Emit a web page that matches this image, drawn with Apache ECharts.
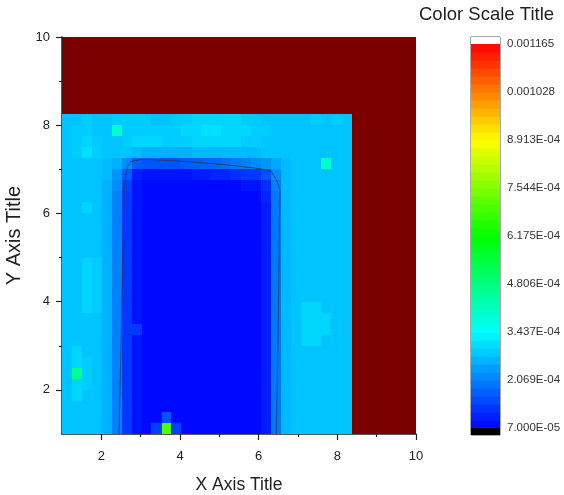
<!DOCTYPE html>
<html><head><meta charset="utf-8">
<script src="https://cdn.jsdelivr.net/npm/echarts@6/dist/echarts.min.js"></script>
<style>html,body{margin:0;padding:0;background:#fff}#c{width:564px;height:495px}</style>
</head><body><div id="c"></div>
<script>
// ---------- data ----------
const xCenters = [1.13,1.38,1.63,1.89,2.14,2.39,2.65,2.90,3.15,3.40,3.66,3.91,4.16,4.42,4.67,4.92,5.18,5.43,5.68,5.94,6.19,6.44,6.70,6.95,7.20,7.45,7.71,7.96,8.21];
// rows listed from top (y = 8.125) to bottom (y = 1.125)
const yCenters = [8.125,7.875,7.625,7.375,7.125,6.875,6.625,6.375,6.125,5.875,5.625,5.375,5.125,4.875,4.625,4.375,4.125,3.875,3.625,3.375,3.125,2.875,2.625,2.375,2.125,1.875,1.625,1.375,1.125];
// Z values in units of 1e-5
const Z_UNIT = 1e-5;
const zRows = [
 [28,28,29,28,28,29,29,29,29,28,28,29,29,30,30,30,30,30,29,29,28,28,28,28,28,29,28,29,28],
 [28,29,29,28,28,40,29,29,29,29,29,29,30,30,31,31,30,30,30,29,29,28,28,28,28,28,28,28,28],
 [28,29,30,29,28,28,29,30,30,30,29,29,29,30,30,30,30,30,29,29,28,28,28,28,28,28,28,28,28],
 [28,29,31,29,28,28,28,27,26,26,26,26,26,27,27,27,27,27,27,27,28,28,28,28,28,28,28,28,28],
 [28,28,28,28,27,26,22,17,16,16,16,16,17,17,18,18,19,20,21,22,23,25,27,28,28,28,40,28,28],
 [28,28,28,28,27,23,17,10,9,9,9,9,9,10,10,11,11,12,13,13,16,22,27,28,28,28,28,28,28],
 [28,28,28,28,26,22,14,9,8,8,8,8,8,8,8,8,8,8,9,9,12,21,27,28,28,28,28,28,28],
 [28,28,28,28,26,21,13,9,8,8,8,8,8,8,8,8,8,8,8,8,11,20,27,28,28,28,28,28,28],
 [28,28,30,28,26,21,13,9,8,8,8,8,8,8,8,8,8,8,8,8,10,20,27,28,28,28,28,28,28],
 [28,28,28,28,26,21,13,9,8,8,8,8,8,8,8,8,8,8,8,8,10,20,27,28,28,28,28,28,28],
 [28,28,28,28,26,21,13,9,8,8,8,8,8,8,8,8,8,8,8,8,10,20,27,28,28,28,28,28,28],
 [28,28,28,28,26,21,13,9,8,8,8,8,8,8,8,8,8,8,8,8,10,20,27,28,28,28,28,28,28],
 [28,28,28,28,26,21,13,9,8,8,8,8,8,8,8,8,8,8,8,8,10,20,27,28,28,28,28,28,28],
 [28,28,30,29,26,21,13,9,8,8,8,8,8,8,8,8,8,8,8,8,10,20,27,28,28,28,28,28,28],
 [28,28,30,29,26,21,13,9,8,8,8,8,8,8,8,8,8,8,8,8,10,20,27,28,28,28,28,28,28],
 [28,28,30,29,26,21,13,9,8,8,8,8,8,8,8,8,8,8,8,8,10,20,27,28,28,28,28,28,28],
 [28,28,30,29,26,21,13,9,8,8,8,8,8,8,8,8,8,8,8,8,10,20,27,28,28,28,28,28,28],
 [28,28,30,29,26,21,13,9,8,8,8,8,8,8,8,8,8,8,8,8,10,20,27,28,30,30,28,28,28],
 [28,28,28,28,26,21,13,9,8,8,8,8,8,8,8,8,8,8,8,8,10,20,27,28,30,30,30,28,28],
 [28,28,28,28,26,21,13,13,8,8,8,8,8,8,8,8,8,8,8,8,10,20,27,28,30,30,30,28,28],
 [28,28,28,28,26,21,13,9,8,8,8,8,8,8,8,8,8,8,8,8,10,20,27,28,30,30,28,28,28],
 [28,30,28,28,26,21,13,9,8,8,8,8,8,8,8,8,8,8,8,8,10,20,27,28,28,28,28,28,28],
 [28,30,29,28,26,21,13,9,8,8,8,8,8,8,8,8,8,8,8,8,10,20,27,28,28,28,28,28,28],
 [28,46,29,28,26,21,13,9,8,8,8,8,8,8,8,8,8,8,8,8,10,20,27,28,28,28,28,28,28],
 [28,30,29,28,26,21,13,9,8,8,8,8,8,8,8,8,8,8,8,8,10,20,27,28,28,28,28,28,28],
 [28,30,28,28,26,21,13,9,8,8,8,8,8,8,8,8,8,8,8,8,10,20,27,28,28,28,28,28,28],
 [28,28,28,28,26,21,13,9,8,8,8,8,8,8,8,8,8,8,8,8,10,20,27,28,28,28,28,28,28],
 [28,28,28,28,26,21,13,9,8,8,16,8,8,8,8,8,8,8,8,8,10,20,27,28,28,28,28,28,28],
 [28,28,28,28,26,21,13,9,8,14,70,14,8,8,8,8,8,8,8,8,10,20,27,28,28,28,28,28,28]
];
const zMin = 7.0e-5, zMax = 1.165e-3;
const colorTickValues = [0.00007,0.000206875,0.00034375,0.000480625,0.0006175,0.000754375,0.00089125,0.001028125,0.001165];
const colorTickLabels = ['7.000E-05','2.069E-04','3.437E-04','4.806E-04','6.175E-04','7.544E-04','8.913E-04','0.001028','0.001165'];
const xTicks = [2,4,6,8,10], xMinorTicks = [3,5,7,9];
const yTicks = [2,4,6,8,10], yMinorTicks = [3,5,7,9];
const contourX = [2.45,2.50,2.55,2.58,2.62,2.67,2.75,3.05,4.11,5.22,6.07,6.32,6.45,6.54,6.52,6.49,6.45];
const contourY = [1.00,3.00,5.20,6.50,6.84,7.06,7.18,7.23,7.18,7.10,7.01,6.95,6.76,6.54,5.00,3.00,1.00];
const NUM_LEVELS = 48;

// ---------- layout / style ----------
const CELL_W = 0.2531, CELL_H = 0.25;
const FONT = 'Liberation Sans';
const CB_AXIS_MIN = 5.0e-5, CB_AXIS_MAX = 1.185e-3;
const mainGrid = {left:62, top:37, width:354, height:397};
const cbGrid = {left:471, top:37, width:29, height:398};

const heatData = [];
zRows.forEach((row, r) => row.forEach((v, i) => heatData.push([xCenters[i], yCenters[r], v * Z_UNIT])));
const contourData = contourX.map((x, k) => [x, contourY[k]]);
const levelStep = (zMax - zMin) / NUM_LEVELS;
const levelData = [];
for (let k = 0; k < NUM_LEVELS; k++) {
  const lo = zMin + k * levelStep, hi = lo + levelStep;
  levelData.push([lo, hi, (lo + hi) / 2]);
}
const capData = [[CB_AXIS_MIN, zMin], [zMax, CB_AXIS_MAX]];
const capColors = ['#000000', '#ffffff'];

function cellItem(params, api) {
  const x = api.value(0), y = api.value(1);
  const a = api.coord([x - CELL_W / 2, y + CELL_H / 2]);
  const b = api.coord([x + CELL_W / 2, y - CELL_H / 2]);
  const x0 = Math.round(a[0]), y0 = Math.round(a[1]);
  const x1 = Math.round(b[0]), y1 = Math.round(b[1]);
  return {type:'rect', shape:{x:x0, y:y0, width:x1 - x0 + 1, height:y1 - y0 + 1},
          style:{fill: api.visual('color')}};
}
function stepItem(params, api) {
  const a = api.coord([0, api.value(1)]);
  const b = api.coord([1, api.value(0)]);
  return {type:'rect', shape:{x:a[0], y:a[1], width:b[0] - a[0], height:b[1] - a[1] + 0.6},
          style:{fill: api.visual('color')}};
}
function capItem(params, api) {
  const a = api.coord([0, api.value(1)]);
  const b = api.coord([1, api.value(0)]);
  return {type:'rect', shape:{x:a[0], y:a[1], width:b[0] - a[0], height:b[1] - a[1]},
          style:{fill: capColors[params.dataIndex]}};
}
function cbLabel(v) {
  let best = 0;
  colorTickValues.forEach((t, k) => { if (Math.abs(t - v) < Math.abs(colorTickValues[best] - v)) best = k; });
  return colorTickLabels[best];
}

const axisTxt = {fontFamily: FONT, fontSize: 13, color: '#222'};
const chart = echarts.init(document.getElementById('c'), null, {renderer: 'canvas'});
chart.setOption({
  animation: false,
  backgroundColor: '#ffffff',
  title: {text: 'Color Scale Title', left: 419, top: 5, padding: 0,
          textStyle: {fontFamily: FONT, fontSize: 18.5, fontWeight: 'normal', color: '#222'}},
  grid: [
    Object.assign({show: true, backgroundColor: '#7a0000', borderWidth: 0, outerBoundsMode: 'none', containLabel: false}, mainGrid),
    Object.assign({show: true, backgroundColor: '#ffffff', borderColor: '#555', borderWidth: 1, outerBoundsMode: 'none', containLabel: false}, cbGrid),
    Object.assign({show: false, outerBoundsMode: 'none', containLabel: false}, mainGrid)
  ],
  xAxis: [
    {type: 'value', gridIndex: 0, min: 1, max: 10, splitLine: {show: false},
     axisLine: {show: true, lineStyle: {color: '#222', width: 1.5}},
     axisTick: {show: true, length: 6, customValues: xTicks, lineStyle: {color: '#222', width: 1.2}},
     axisLabel: Object.assign({customValues: xTicks, margin: 16}, axisTxt),
     name: 'X Axis Title', nameLocation: 'middle', nameGap: 42,
     nameTextStyle: {fontFamily: FONT, fontSize: 17.5, color: '#222'}},
    {type: 'value', gridIndex: 1, min: 0, max: 1, show: false},
    {type: 'value', gridIndex: 2, min: 1, max: 10, splitLine: {show: false},
     axisLine: {show: false}, axisLabel: {show: false},
     axisTick: {show: true, length: 3, customValues: xMinorTicks, lineStyle: {color: '#222', width: 1.2}}}
  ],
  yAxis: [
    {type: 'value', gridIndex: 0, min: 1, max: 10, splitLine: {show: false},
     axisLine: {show: true, lineStyle: {color: '#222', width: 1.5}},
     axisTick: {show: true, length: 6, customValues: yTicks, lineStyle: {color: '#222', width: 1.2}},
     axisLabel: Object.assign({customValues: yTicks, margin: 12}, axisTxt),
     name: 'Y Axis Title', nameLocation: 'middle', nameGap: 38, nameRotate: 90,
     nameTextStyle: {fontFamily: FONT, fontSize: 20, color: '#222'}},
    {type: 'value', gridIndex: 1, min: CB_AXIS_MIN, max: CB_AXIS_MAX, position: 'right',
     splitLine: {show: false}, axisLine: {show: false},
     axisTick: {show: true, length: 5, customValues: colorTickValues, lineStyle: {color: '#333'}},
     axisLabel: {customValues: colorTickValues, formatter: cbLabel, margin: 7,
                 fontFamily: FONT, fontSize: 11.5, color: '#333'}},
    {type: 'value', gridIndex: 2, min: 1, max: 10, splitLine: {show: false},
     axisLine: {show: false}, axisLabel: {show: false},
     axisTick: {show: true, length: 3, customValues: yMinorTicks, lineStyle: {color: '#222', width: 1.2}}}
  ],
  visualMap: {type: 'continuous', show: false, min: zMin, max: zMax, dimension: 2, seriesIndex: [0, 2],
              inRange: {color: ['#0000ff', '#00ffff', '#00ff00', '#ffff00', '#ff0000']}},
  series: [
    {type: 'custom', xAxisIndex: 0, yAxisIndex: 0, renderItem: cellItem, data: heatData, clip: true, silent: true},
    {type: 'line', xAxisIndex: 0, yAxisIndex: 0, data: contourData, symbol: 'none', silent: true,
     lineStyle: {color: '#333344', width: 1, opacity: 0.75}, z: 3},
    {type: 'custom', xAxisIndex: 1, yAxisIndex: 1, renderItem: stepItem, data: levelData, silent: true},
    {type: 'custom', xAxisIndex: 1, yAxisIndex: 1, renderItem: capItem, data: capData, silent: true}
  ]
});
</script></body></html>
